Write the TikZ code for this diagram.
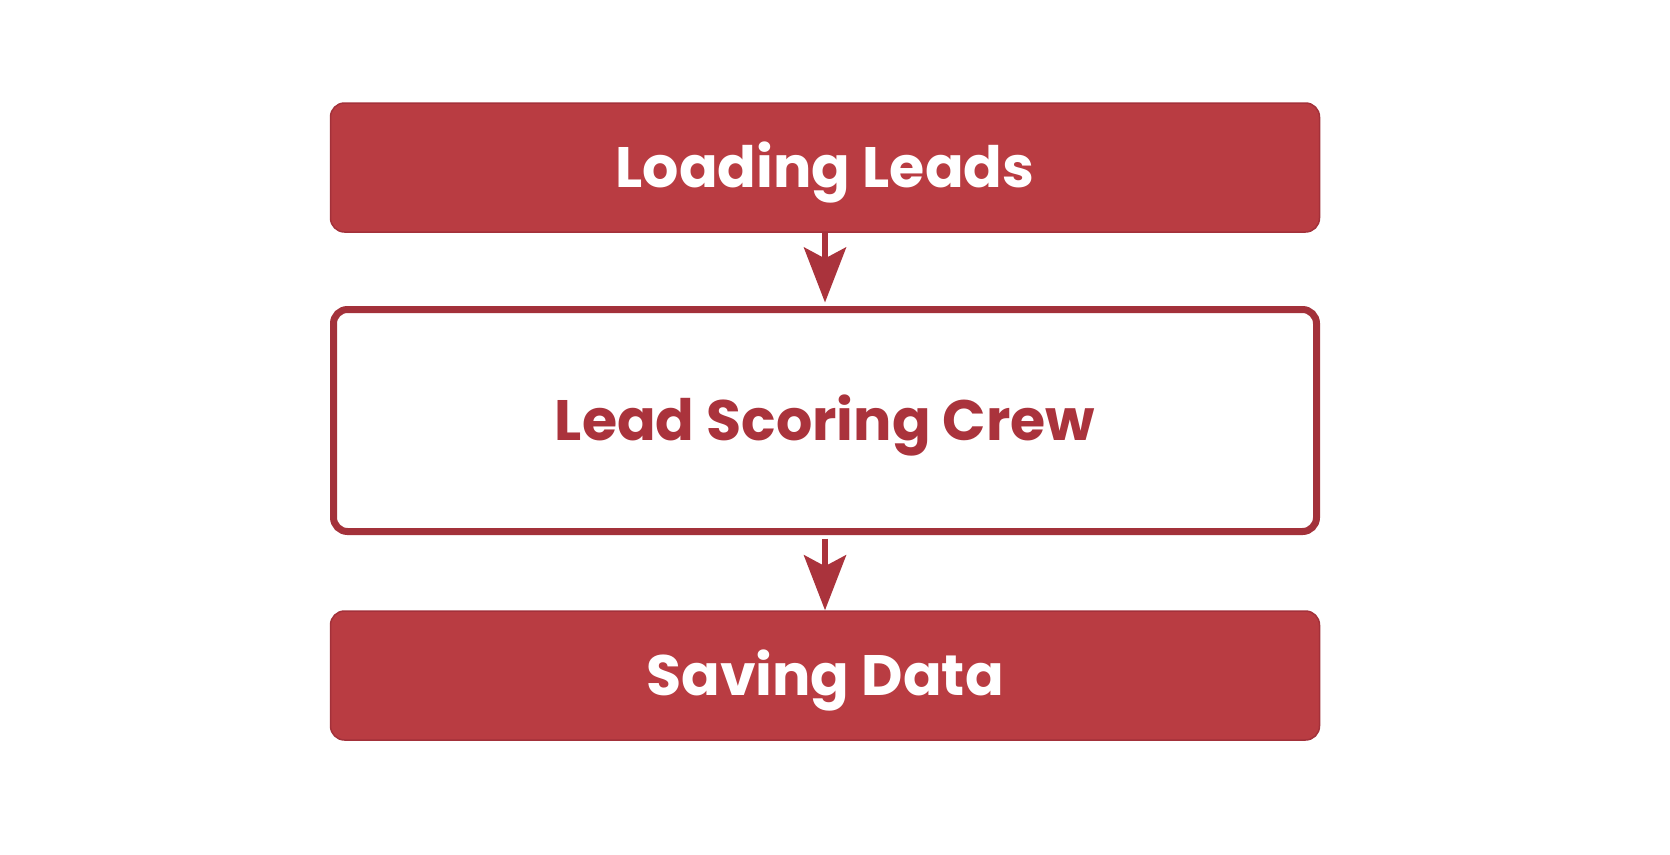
\documentclass[tikz,border=0pt]{standalone}
\usepackage{fontspec}
\setmainfont{Poppins}
\usetikzlibrary{arrows.meta}
\definecolor{crimson}{HTML}{B93C42}
\definecolor{crimsonedge}{HTML}{A3313A}
\definecolor{crimsontext}{HTML}{AA333C}
\tikzset{
  label font/.style={font=\fontsize{57}{60}\selectfont\bfseries, text height=40pt, text depth=0pt},
  solidbox/.style={rectangle, rounded corners=14pt, fill=crimson, draw=crimsonedge, line width=1.5pt,
    minimum width=989pt, minimum height=129pt, inner sep=0pt, text=white, label font},
  hollowbox/.style={rectangle, rounded corners=14pt, fill=white, draw=crimsonedge, line width=7pt,
    minimum width=983pt, minimum height=222pt, inner sep=0pt, text=crimsontext, label font},
  flow/.style={draw=crimsontext, line width=6pt, -{Stealth[length=55pt, width=42pt, inset=11pt]}},
}
\begin{document}
\begin{tikzpicture}[x=1pt, y=-1pt]
  \fill[white] (0,0) rectangle (1670,854);
  \useasboundingbox (0,0) rectangle (1670,854);
  \node[solidbox]  (load)  at (825,167.5) {Loading Leads};
  \node[hollowbox] (crew)  at (825,420.5) {Lead Scoring Crew};
  \node[solidbox]  (save)  at (825,675.5) {Saving Data};
  \draw[flow] (load.south) -- ([yshift=3.5pt]crew.north);
  \draw[flow] ([yshift=-3.5pt]crew.south) -- (save.north);
\end{tikzpicture}
\end{document}
